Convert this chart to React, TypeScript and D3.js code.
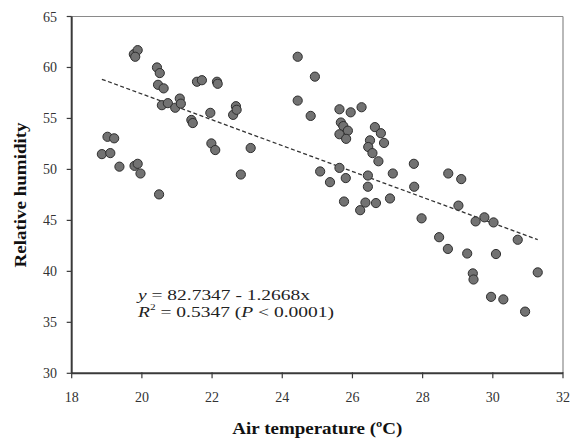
import React from "react";
import * as d3 from "d3";

const airTemperature: number[] = [
  18.86, 19.1, 19.02, 19.21, 19.36, 19.79, 19.88, 19.96, 20.49,
  19.77, 19.88, 19.81,
  20.43, 20.51, 20.46, 20.62, 20.57, 20.74, 20.95, 21.08, 21.11, 21.41, 21.45,
  21.57, 21.71, 22.14, 22.16, 21.95, 21.98, 22.09,
  22.6, 22.68, 22.7, 22.82, 23.1,
  24.44, 24.93, 24.44, 24.81, 25.08, 25.36,
  25.63, 25.95, 26.26, 25.67, 25.74, 25.87, 25.63, 25.82,
  25.63, 25.81, 25.76,
  26.64, 26.81, 26.9, 26.5, 26.45, 26.57, 26.74,
  26.44, 26.44, 26.22, 26.37, 26.67, 27.07, 27.15,
  27.75, 27.76, 27.97, 28.73, 29.1, 29.02,
  28.47, 28.72, 29.27, 29.51, 29.76, 30.02, 30.09, 30.71,
  29.43, 29.45, 31.28, 29.95, 30.3, 30.92,
];

const relativeHumidity: number[] = [
  51.5, 51.6, 53.2, 53.05, 50.27, 50.35, 50.55, 49.6, 47.55,
  61.3, 61.7, 61.05,
  60.0, 59.45, 58.3, 57.95, 56.3, 56.5, 56.05, 56.95, 56.45, 54.85, 54.55,
  58.6, 58.75, 58.6, 58.4, 55.55, 52.55, 51.9,
  55.35, 56.2, 55.85, 49.5, 52.1,
  61.05, 59.1, 56.75, 55.25, 49.8, 48.75,
  55.9, 55.6, 56.1, 54.6, 54.25, 53.8, 53.45, 53.0,
  50.15, 49.15, 46.85,
  54.15, 53.55, 52.6, 52.85, 52.2, 51.6, 50.8,
  49.4, 48.3, 46.0, 46.75, 46.7, 47.15, 49.6,
  50.55, 48.3, 45.2, 49.6, 49.05, 46.45,
  43.35, 42.2, 41.75, 44.9, 45.3, 44.8, 41.7, 43.1,
  39.8, 39.2, 39.9, 37.5, 37.25, 36.05,
];

const xTicks: number[] = [18, 20, 22, 24, 26, 28, 30, 32];
const yTicks: number[] = [30, 35, 40, 45, 50, 55, 60, 65];
const intercept = 82.7347;
const slope = -1.2668;

const W = 573;
const H = 440;
const left = 71.7;
const right = 563;
const top = 16.5;
const bottom = 373.3;
const serif = "'Liberation Serif', 'Times New Roman', serif";

export default function App() {
  const x = d3.scaleLinear().domain([18, 32]).range([left, right]);
  const y = d3.scaleLinear().domain([30, 65]).range([bottom, top]);
  const pts = airTemperature.map((t, i) => ({ t, h: relativeHumidity[i] }));
  const xMin = d3.min(airTemperature) as number;
  const xMax = d3.max(airTemperature) as number;
  const line = d3.line<number>().x((d) => x(d)).y((d) => y(intercept + slope * d));

  return (
    <svg
      width={W}
      height={H}
      viewBox={`0 0 ${W} ${H}`}
      style={{ position: "absolute", left: 0, top: 0, background: "#fff" }}
      fontFamily={serif}
    >
      <rect x={0} y={0} width={W} height={H} fill="#fff" />
      {/* frame top/right */}
      <line x1={left} x2={right} y1={top} y2={top} stroke="#8a8a8a" strokeWidth={1.2} />
      <line x1={right} x2={right} y1={top} y2={bottom} stroke="#8a8a8a" strokeWidth={1.2} />

      {/* regression line */}
      <path d={line([xMin, xMax]) || ""} fill="none" stroke="#333" strokeWidth={1.3} strokeDasharray="4,2.5" />

      {/* points */}
      {pts.map((p, i) => (
        <circle key={i} cx={x(p.t)} cy={y(p.h)} r={4.6} fill="#727272" stroke="#2e2e2e" strokeWidth={1} />
      ))}

      {/* axes */}
      <line x1={left} x2={right} y1={bottom} y2={bottom} stroke="#3a3a3a" strokeWidth={2} />
      <line x1={left} x2={left} y1={top} y2={bottom} stroke="#3a3a3a" strokeWidth={2} />
      {xTicks.map((v) => (
        <g key={"x" + v}>
          <line x1={x(v)} x2={x(v)} y1={bottom - 1} y2={bottom + 5} stroke="#3a3a3a" strokeWidth={1.2} />
          <text x={x(v)} y={402} fontSize={14} textAnchor="middle" fill="#333">
            {v}
          </text>
        </g>
      ))}
      {yTicks.map((v) => (
        <g key={"y" + v}>
          <line x1={left - 5} x2={left} y1={y(v)} y2={y(v)} stroke="#3a3a3a" strokeWidth={1.2} />
          <text x={57} y={y(v) + 5} fontSize={14} textAnchor="end" fill="#333">
            {v}
          </text>
        </g>
      ))}

      {/* axis titles */}
      <text
        x={(left + right) / 2}
        y={434}
        fontSize={17}
        fontWeight="bold"
        textAnchor="middle"
        fill="#111"
        textLength={170}
        lengthAdjust="spacingAndGlyphs"
      >
        Air temperature (ºC)
      </text>
      <text
        transform={`translate(26, ${(top + bottom) / 2}) rotate(-90)`}
        fontSize={17}
        fontWeight="bold"
        textAnchor="middle"
        fill="#111"
        textLength={145}
        lengthAdjust="spacingAndGlyphs"
      >
        Relative humidity
      </text>

      {/* equation */}
      <text x={138} y={300} fontSize={15.5} fill="#222" textLength={172} lengthAdjust="spacingAndGlyphs">
        <tspan fontStyle="italic">y</tspan> = 82.7347 - 1.2668x
      </text>
      <text x={138} y={317} fontSize={15.5} fill="#222" textLength={196} lengthAdjust="spacingAndGlyphs">
        <tspan fontStyle="italic">R</tspan>
        <tspan fontSize={9} dy={-7}>2</tspan>
        <tspan dy={7}> = 0.5347 (</tspan>
        <tspan fontStyle="italic">P</tspan>
        <tspan> &lt; 0.0001)</tspan>
      </text>
    </svg>
  );
}
